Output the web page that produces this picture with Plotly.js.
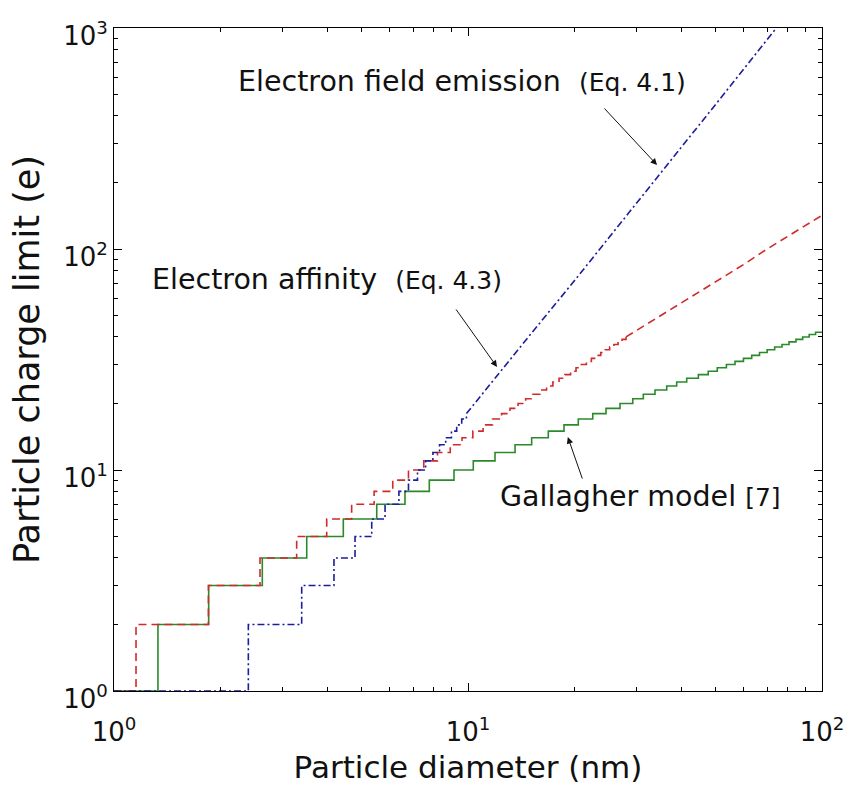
<!DOCTYPE html>
<html>
<head>
<meta charset="utf-8">
<script src="https://cdn.plot.ly/plotly-3.0.1.min.js"></script>
<style>
  html, body { margin: 0; padding: 0; background: #ffffff; }
  #chart { width: 852px; height: 789px; }
</style>
</head>
<body>
<div id="chart"></div>
<script>
// Charge limit of a particle vs. its diameter, three models.
// Each stepped series: diameter (nm) where the limit rises to the listed charge (e).

// Gallagher model [7]
const gallagherD = [1, 1.331, 1.851, 2.624, 3.503, 4.444, 5.523, 6.637, 7.775, 9.130,
  10.35, 11.92, 13.58, 15.13, 16.86, 18.67, 20.49, 22.51, 24.54, 26.88,
  29.20, 31.28, 33.75, 36.42, 38.86, 41.48, 44.74, 47.7, 50.6, 53.7,
  56.8, 60.0, 63.3, 66.6, 70.0, 73.5, 77.1, 80.7, 84.4, 88.2,
  92.0, 95.9, 100];
const gallagherQ = [1, 2, 3, 4, 5, 6, 7, 8, 9, 10,
  11, 12, 13, 14, 15, 16, 17, 18, 19, 20,
  21, 22, 23, 24, 25, 26, 27, 28, 29, 30,
  31, 32, 33, 34, 35, 36, 37, 38, 39, 40,
  41, 42, 42];

// Electron affinity (Eq. 4.3): stepped part, then the upper part of the curve
const affinityD = [1, 1.154, 1.848, 2.585, 3.281, 3.989, 4.692, 5.43, 6.13, 6.79,
  7.50, 8.20, 8.91, 9.62, 10.32, 11.03, 11.73, 12.44, 13.14, 13.85,
  14.55, 15.26, 15.96, 16.67, 17.37, 18.08, 18.78, 19.49, 20.19, 20.90,
  21.60, 22.31, 23.01, 23.72, 24.42, 25.13, 25.83, 26.54, 27.24, 27.95];
const affinityQ = [1, 2, 3, 4, 5, 6, 7, 8, 9, 10,
  11, 12, 13, 14, 15, 16, 17, 18, 19, 20,
  21, 22, 23, 24, 25, 26, 27, 28, 29, 30,
  31, 32, 33, 34, 35, 36, 37, 38, 39, 40];
const affinityUpperD = [27.95, 32, 39.7, 50, 60, 70, 80, 90, 100];
const affinityUpperQ = [40, 45.7, 57, 71, 85, 100, 114, 128, 142];

// Electron field emission (Eq. 4.1): stepped part, then the upper part of the curve
const emissionD = [1, 2.396, 3.390, 4.182, 4.796, 5.346, 5.830, 6.38, 6.79, 7.20,
  7.59, 7.96, 8.31, 8.65, 8.98, 9.29, 9.60, 9.90];
const emissionQ = [1, 2, 3, 4, 5, 6, 7, 8, 9, 10,
  11, 12, 13, 14, 15, 16, 17, 18];
const emissionUpperD = [9.90, 12, 15, 20, 23.6, 30, 40, 50, 60, 73.6, 80];
const emissionUpperQ = [18, 26.5, 41, 72, 100, 162, 288, 450, 648, 980, 1160];

// Axis ticks
const diameterTicks = [1, 10, 100];
const diameterTickText = ['10<sup>0</sup>', '10<sup>1</sup>', '10<sup>2</sup>'];
const chargeTicks = [1, 10, 100, 1000];
const chargeTickText = ['10<sup>0</sup>', '10<sup>1</sup>', '10<sup>2</sup>', '10<sup>3</sup>'];

const FONT = 'DejaVu Sans, Arial, sans-serif';
const greenStyle = { color: '#2a8a2a', width: 1.6 };
const redStyle = { color: '#d02a2a', width: 1.6, dash: '8px,5px' };
const blueStyle = { color: '#1c1c9c', width: 1.6, dash: '7px,3px,2px,3px' };

const traces = [
  { x: gallagherD, y: gallagherQ, mode: 'lines', line: Object.assign({ shape: 'hv' }, greenStyle), hoverinfo: 'x+y' },
  { x: affinityD, y: affinityQ, mode: 'lines', line: Object.assign({ shape: 'hv' }, redStyle), hoverinfo: 'x+y' },
  { x: affinityUpperD, y: affinityUpperQ, mode: 'lines', line: Object.assign({ shape: 'linear' }, redStyle), hoverinfo: 'x+y' },
  { x: emissionD, y: emissionQ, mode: 'lines', line: Object.assign({ shape: 'hv' }, blueStyle), hoverinfo: 'x+y' },
  { x: emissionUpperD, y: emissionUpperQ, mode: 'lines', line: Object.assign({ shape: 'linear' }, blueStyle), hoverinfo: 'x+y' }
];

function axisBase() {
  return {
    type: 'log',
    ticks: 'inside',
    ticklen: 8,
    tickwidth: 1,
    tickcolor: '#000',
    showline: true,
    linecolor: '#000',
    linewidth: 1,
    mirror: 'allticks',
    showgrid: false,
    zeroline: false,
    tickfont: { family: FONT, size: 26, color: '#111' },
    minor: { dtick: 'D1', ticks: 'inside', ticklen: 4, tickwidth: 1, tickcolor: '#000', showgrid: false }
  };
}

const xaxis = Object.assign(axisBase(), {
  range: [0, 2],
  tickvals: diameterTicks,
  ticktext: diameterTickText,
  ticklabelstandoff: 18,
  title: { text: 'Particle diameter (nm)', font: { family: FONT, size: 31, color: '#111' }, standoff: 10 }
});
const yaxis = Object.assign(axisBase(), {
  range: [0, 3],
  tickvals: chargeTicks,
  ticktext: chargeTickText,
  ticklabelshift: 8,
  title: { text: 'Particle charge limit (e)', font: { family: FONT, size: 35, color: '#111' }, standoff: 12 }
});

const textFont = { family: FONT, size: 28.5, color: '#111' };
const eqSpan = '<span style="font-size:25px">';
const annotations = [
  { xref: 'paper', yref: 'paper', x: 0.1723, y: 0.920, xanchor: 'left', yanchor: 'middle', showarrow: false,
    text: 'Electron field emission&nbsp; ' + eqSpan + '(Eq. 4.1)</span>', font: textFont },
  { xref: 'paper', yref: 'paper', x: 0.0508, y: 0.620, xanchor: 'left', yanchor: 'middle', showarrow: false,
    text: 'Electron affinity&nbsp; ' + eqSpan + '(Eq. 4.3)</span>', font: textFont },
  { xref: 'paper', yref: 'paper', x: 0.543, y: 0.293, xanchor: 'left', yanchor: 'middle', showarrow: false,
    text: 'Gallagher model ' + eqSpan + '[7]</span>', font: textFont },
  // arrows pointing at the curves
  { xref: 'paper', yref: 'paper', x: 0.767, y: 0.7934, ax: -54, ay: -58, text: '', showarrow: true,
    arrowhead: 2, arrowsize: 1.3, arrowwidth: 1, arrowcolor: '#111' },
  { xref: 'paper', yref: 'paper', x: 0.541, y: 0.4887, ax: -42, ay: -59, text: '', showarrow: true,
    arrowhead: 2, arrowsize: 1.3, arrowwidth: 1, arrowcolor: '#111' },
  { xref: 'paper', yref: 'paper', x: 0.641, y: 0.383, ax: 15, ay: 43, text: '', showarrow: true,
    arrowhead: 2, arrowsize: 1.3, arrowwidth: 1, arrowcolor: '#111' }
];

const layout = {
  width: 852,
  height: 789,
  margin: { l: 114, r: 30, t: 28, b: 98 },
  paper_bgcolor: '#ffffff',
  plot_bgcolor: '#ffffff',
  showlegend: false,
  font: { family: FONT, color: '#111' },
  xaxis: xaxis,
  yaxis: yaxis,
  annotations: annotations
};

Plotly.newPlot('chart', traces, layout, { displayModeBar: false, staticPlot: true });
</script>
</body>
</html>
